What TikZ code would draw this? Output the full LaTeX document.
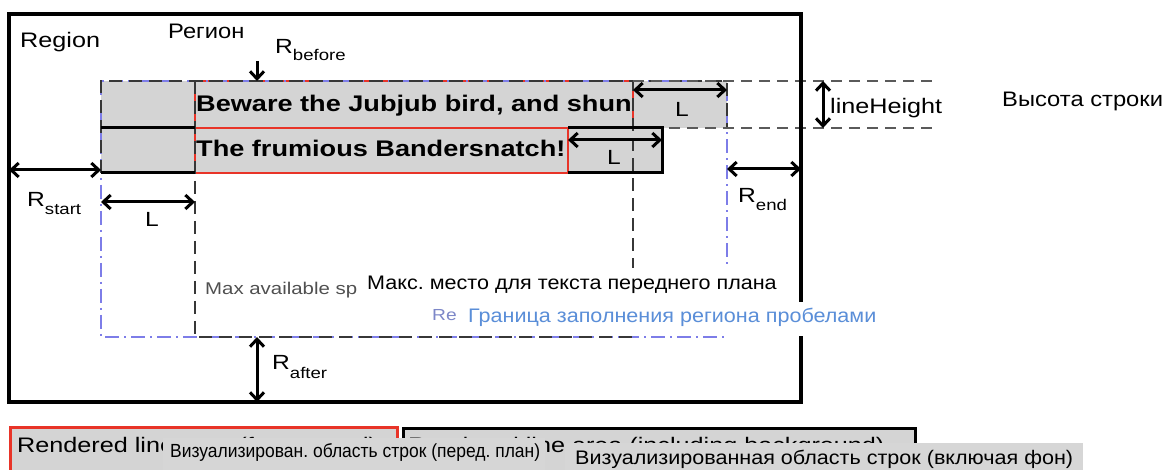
\documentclass[tikz,border=0pt]{standalone}
\usepackage{fontspec}
\setmainfont{Liberation Sans}
\newfontfamily\enf[FakeStretch=1.2]{Liberation Sans}
\newfontfamily\ruf[FakeStretch=1.13]{Liberation Sans}
\newfontfamily\rufm[FakeStretch=1.1]{Liberation Sans}
\newfontfamily\rufn[FakeStretch=0.92]{Liberation Sans}
\usetikzlibrary{arrows.meta}
\definecolor{lgray}{RGB}{212,212,212}
\definecolor{ovgray}{RGB}{214,214,214}
\definecolor{myred}{RGB}{232,52,40}
\definecolor{myblue}{RGB}{125,125,232}
\definecolor{dgray}{RGB}{55,55,55}
\definecolor{mgray}{RGB}{90,90,90}
\definecolor{txtblue}{RGB}{90,142,216}
\definecolor{reblue}{RGB}{125,135,200}
\definecolor{maxgray}{RGB}{80,80,80}
\newcommand\fs[1]{\fontsize{#1}{#1}\selectfont}
\frenchspacing
\begin{document}
\begin{tikzpicture}[x=1pt,y=-1pt,
  regionbox/.style={draw=black,line width=3.2pt},
  redbox/.style={draw=myred,line width=2.6pt},
  bluedd/.style={draw=myblue,line width=2pt,dash pattern=on 14pt off 5pt on 2pt off 5pt},
  blackdash/.style={draw=dgray,line width=2.6pt,dash pattern=on 13pt off 7pt},
  greydash/.style={draw=mgray,line width=2.6pt,dash pattern=on 11pt off 7pt},
  solidl/.style={draw=black,line width=3pt},
  dim/.style={line width=3pt,{Straight Barb[length=7.5pt,width=14pt]}-{Straight Barb[length=7.5pt,width=14pt]}},
  dimdown/.style={line width=3pt,-{Straight Barb[length=7.5pt,width=14pt]}},
  lbl/.style={inner sep=0pt,anchor=base west},
  en/.style={lbl,font=\enf\fs{21}},
  enR/.style={lbl,font=\enf\fs{20.5}},
  enbold/.style={lbl,font=\enf\bfseries\fs{22.6}},
  ru/.style={lbl,font=\ruf\fs{21}},
  rum/.style={lbl,font=\rufm\fs{19.6}}]
\useasboundingbox (0,0) rectangle (1165,470);
\clip (0,0) rectangle (1165,470);
\fill[white] (0,0) rectangle (1165,470);

% line areas
\fill[lgray] (101,81) rectangle (727,128);
\fill[lgray] (101,128) rectangle (662,173);
\draw[redbox] (195,81) rectangle (633,128);
\draw[redbox] (195,128) rectangle (568,173);

% boundaries
\draw[bluedd] (101,81) rectangle (727,337);
\draw[blackdash] (195,81) rectangle (633,337);
\draw[blackdash] (101,173) -- (101,81) -- (727,81) -- (727,128);
\draw[greydash] (633,81) -- (937,81);
\draw[greydash] (633,128) -- (937,128);

% solid line edges
\draw[solidl] (101,128) -- (195,128);
\draw[solidl] (101,173) -- (195,173);
\draw[solidl] (568,128) -- (662,128) -- (662,173) -- (568,173);

% region
\draw[regionbox] (9,14) rectangle (801,402);

% arrows
\coordinate (rbA) at (257,61);   \coordinate (rbB) at (257,81);
\coordinate (l1A) at (633,90);   \coordinate (l1B) at (727,90);
\coordinate (l2A) at (568,140);  \coordinate (l2B) at (662,140);
\coordinate (lhA) at (823,81);   \coordinate (lhB) at (823,128);
\coordinate (rsA) at (9,170);    \coordinate (rsB) at (101,170);
\coordinate (l3A) at (101,202);  \coordinate (l3B) at (195,202);
\coordinate (reA) at (727,169);  \coordinate (reB) at (801,169);
\coordinate (raA) at (257,337);  \coordinate (raB) at (257,402);
\draw[dimdown] (rbA) -- (rbB);
\draw[dim] (l1A) -- (l1B);
\draw[dim] (l2A) -- (l2B);
\draw[dim] (lhA) -- (lhB);
\draw[dim] (rsA) -- (rsB);
\draw[dim] (l3A) -- (l3B);
\draw[dim] (reA) -- (reB);
\draw[dim] (raA) -- (raB);

% labels
\node[en] (tRegion) at (20,48) {Region};
\node[ru] (tRegionRu) at (168,39) {Регион};
\node[enR] (tRbefore) at (275,54) {R\raisebox{-7pt}{\fs{15.5}before}};
\node[enbold] (tLine1) at (196,112) {Beware the Jubjub bird, and shun};
\node[enbold] (tLine2) at (196,157) {The frumious Bandersnatch!};
\node[enR] (tL1) at (675,117) {L};
\node[enR] (tL2) at (607,165) {L};
\node[en] (tLH) at (830,114) {lineHeight};
\node[ru] (tLHru) at (1002,107) {Высота строки};
\node[enR] (tRstart) at (27,207) {R\raisebox{-8pt}{\fs{15.5}start}};
\node[enR] (tL3) at (145,227) {L};
\node[enR] (tRend) at (738,203) {R\raisebox{-8pt}{\fs{15.5}end}};
\node[lbl,font=\enf\fs{17},text=maxgray] (tMax) at (205,295) {Max available sp};
\node[lbl,font=\enf\fs{16},text=reblue] (tRe) at (432,321) {Re};
\node[enR] (tRafter) at (272,370) {R\raisebox{-9pt}{\fs{15.5}after}};

% overlays (translation)
\fill[white] (362,268) rectangle (782,302);
\node[rum] (tMaxRu) at (367,290) {Макс. место для текста переднего плана};
\fill[white] (457,302) rectangle (884,336);
\node[rum,text=txtblue] (tFillRu) at (468,323) {Граница заполнения региона пробелами};

% legend
\draw[line width=3pt,draw=myred,fill=lgray] (10,427) rectangle (397,490);
\draw[line width=3pt,draw=black,fill=lgray] (403,428) rectangle (915,490);
\node[en] (tLeg1) at (17,452) {Rendered line area (foreground)};
\node[en] (tLeg2) at (408,452) {Rendered line area (including background)};
\fill[ovgray] (163,438) rectangle (545,490);
\node[lbl,font=\rufn\fs{19}] (tLeg1ru) at (170,457) {Визуализирован. область строк (перед. план)};
\fill[ovgray] (565,443) rectangle (1083,490);
\node[rum] (tLeg2ru) at (575,464) {Визуализированная область строк (включая фон)};
\end{tikzpicture}
\end{document}
